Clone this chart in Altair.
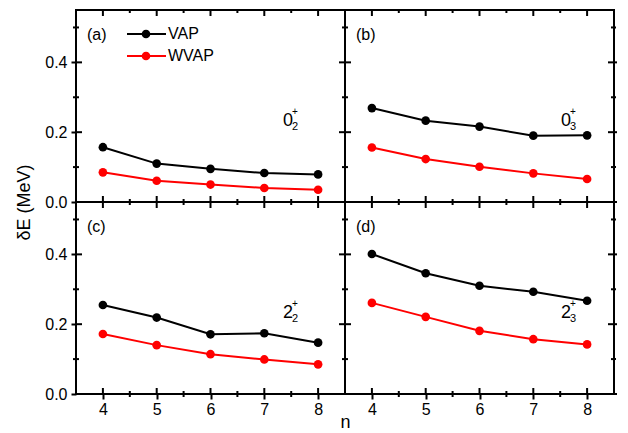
import altair as alt
import pandas as pd

n_vals = [4, 5, 6, 7, 8]
vap_a = [0.157, 0.110, 0.095, 0.083, 0.079]
wvap_a = [0.085, 0.061, 0.050, 0.040, 0.035]
vap_b = [0.269, 0.233, 0.216, 0.190, 0.191]
wvap_b = [0.156, 0.123, 0.101, 0.082, 0.066]
vap_c = [0.255, 0.219, 0.171, 0.174, 0.147]
wvap_c = [0.172, 0.140, 0.114, 0.099, 0.085]
vap_d = [0.401, 0.346, 0.310, 0.293, 0.267]
wvap_d = [0.261, 0.221, 0.181, 0.157, 0.142]
series = ["VAP", "WVAP"]
colors = ["black", "red"]
x_major = [4, 5, 6, 7, 8]
x_minor = [4.5, 5.5, 6.5, 7.5]
y_major = [0.0, 0.2, 0.4]
y_minor = [0.1, 0.3, 0.5]
panel_labels = ["(a)", "(b)", "(c)", "(d)"]
state_main = ["0", "0", "2", "2"]
state_sub = ["2", "3", "2", "3"]

W, H = 269, 192
FONT = "Liberation Sans"
xs = alt.Scale(domain=[3.5, 8.5], nice=False, zero=False)
ys = alt.Scale(domain=[0, 0.55], nice=False)
cs = alt.Scale(domain=series, range=colors)


def panel(vap, wvap, idx, left, bottom):
    df = pd.DataFrame({
        "n": n_vals * 2,
        "v": vap + wvap,
        "s": [series[0]] * 5 + [series[1]] * 5,
    })
    if bottom:
        xaxis = alt.Axis(values=x_major, labelFontSize=16, labelFont=FONT, labelColor="black",
                         ticks=True, tickSize=5, tickWidth=2, tickColor="black", domain=False,
                         grid=False, labelPadding=2,
                         title="n" if left else "", titleFontSize=18, titleFont=FONT,
                         titleFontWeight="normal", titleX=W, titleY=19, titleBaseline="top")
    else:
        xaxis = alt.Axis(values=x_major, labels=False, ticks=False, domain=False, grid=False, title="")
    if left:
        yaxis = alt.Axis(values=y_major, format=".1f", labelFontSize=16, labelFont=FONT,
                         labelColor="black", ticks=True, tickSize=5, tickWidth=2, tickColor="black",
                         domain=False, grid=False, labelPadding=4,
                         title="δE (MeV)" if idx == 0 else "", titleFontSize=18, titleFont=FONT,
                         titleFontWeight="normal", titleY=H, titleX=-52, titleBaseline="middle",
                         titleAngle=270)
    else:
        yaxis = alt.Axis(values=y_major, labels=False, ticks=False, domain=False, grid=False, title="")

    base = alt.Chart(df)
    line = base.mark_line(strokeWidth=2).encode(
        x=alt.X("n:Q", scale=xs, axis=xaxis),
        y=alt.Y("v:Q", scale=ys, axis=yaxis),
        color=alt.Color("s:N", scale=cs, legend=None),
    )
    pts = base.mark_circle(size=75, opacity=1).encode(
        x=alt.X("n:Q", scale=xs, axis=xaxis),
        y=alt.Y("v:Q", scale=ys, axis=yaxis),
        color=alt.Color("s:N", scale=cs, legend=None),
    )
    layers = [line, pts]

    xmaj = pd.DataFrame({"t": x_major})
    xmin = pd.DataFrame({"t": x_minor})
    ymaj = pd.DataFrame({"t": y_major})
    ymin = pd.DataFrame({"t": y_minor})

    def xt(d, y0, y1):
        return alt.Chart(d).mark_rule(color="black", strokeWidth=2).encode(
            x=alt.X("t:Q", scale=xs, axis=xaxis), y=alt.value(y0), y2=alt.value(y1))

    def yt(d, x0, x1):
        return alt.Chart(d).mark_rule(color="black", strokeWidth=2).encode(
            y=alt.Y("t:Q", scale=ys, axis=yaxis), x=alt.value(x0), x2=alt.value(x1))

    # inward ticks on all sides
    layers += [xt(xmaj, H - 6, H), xt(xmaj, 0, 6), xt(xmin, H - 3, H), xt(xmin, 0, 3),
               yt(ymaj, 0, 6), yt(ymaj, W - 6, W), yt(ymin, 0, 3), yt(ymin, W - 3, W)]
    # outward minor ticks on outer edges
    if bottom:
        layers.append(xt(xmin, H, H + 3))
    if left:
        layers.append(yt(ymin, -3, 0))
    else:
        layers += [yt(ymaj, W, W + 3), yt(ymin, W, W + 2)]

    lab = alt.Chart(pd.DataFrame({"t": [panel_labels[idx]]})).mark_text(
        fontSize=16, font=FONT, color="black", align="left", baseline="middle").encode(
        text="t:N", x=alt.value(11), y=alt.value(25))
    layers.append(lab)

    sx = 212 if left else 221
    sm = alt.Chart(pd.DataFrame({"t": [state_main[idx]]})).mark_text(
        fontSize=18, font=FONT, color="black", align="center", baseline="middle").encode(
        text="t:N", x=alt.value(sx), y=alt.value(111))
    sp = alt.Chart(pd.DataFrame({"t": ["+"]})).mark_text(
        fontSize=10, font=FONT, color="black", align="left", baseline="middle").encode(
        text="t:N", x=alt.value(sx + 4), y=alt.value(102))
    sb = alt.Chart(pd.DataFrame({"t": [state_sub[idx]]})).mark_text(
        fontSize=11, font=FONT, color="black", align="left", baseline="middle").encode(
        text="t:N", x=alt.value(sx + 4), y=alt.value(117))
    layers += [sm, sp, sb]

    if idx == 0:
        for i, (s, c) in enumerate(zip(series, colors)):
            yy = 24 + 22 * i
            ln = alt.Chart(pd.DataFrame({"s": [s]})).mark_rule(color=c, strokeWidth=2).encode(
                x=alt.value(51), x2=alt.value(90), y=alt.value(yy))
            dt = alt.Chart(pd.DataFrame({"s": [s]})).mark_point(
                filled=True, shape="circle", size=75, color=c, opacity=1).encode(
                x=alt.value(70), y=alt.value(yy))
            tx = alt.Chart(pd.DataFrame({"s": [s]})).mark_text(
                fontSize=16, font=FONT, color="black", align="left", baseline="middle").encode(
                text="s:N", x=alt.value(92), y=alt.value(yy))
            layers += [ln, dt, tx]

    return alt.layer(*layers).properties(width=W, height=H)


pa = panel(vap_a, wvap_a, 0, True, False)
pb = panel(vap_b, wvap_b, 1, False, False)
pc = panel(vap_c, wvap_c, 2, True, True)
pd_ = panel(vap_d, wvap_d, 3, False, True)

chart = alt.concat(pa, pb, pc, pd_, columns=2, spacing=0, bounds="flush").configure(
    padding={"left": 6, "top": 0, "right": 0, "bottom": 0}, background="white"
).configure_view(stroke="black", strokeWidth=2)

chart.save("out.html", embed_options={"renderer": "svg", "actions": False})
